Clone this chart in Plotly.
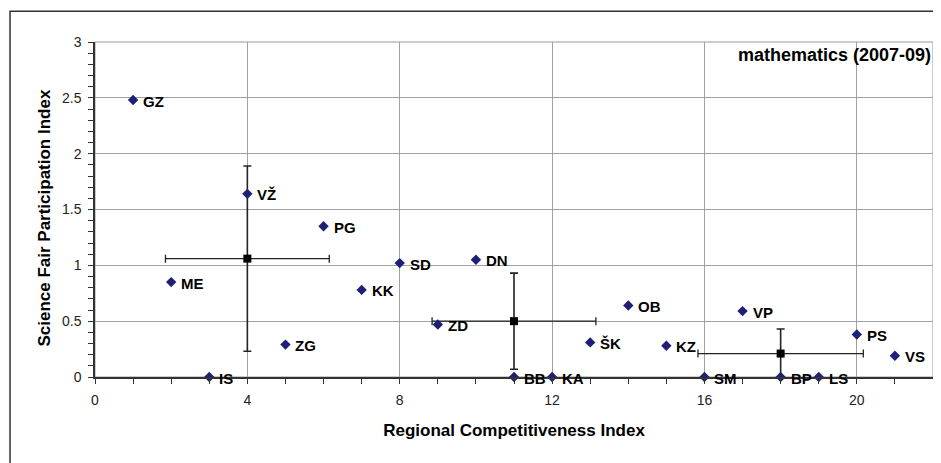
import plotly.graph_objects as go

# Region data
regions = ["GZ", "ME", "IS", "VŽ", "ZG", "PG", "KK", "SD", "ZD", "DN", "BB", "KA",
           "ŠK", "OB", "KZ", "SM", "VP", "BP", "LS", "PS", "VS"]
rci = [1, 2, 3, 4, 5, 6, 7, 8, 9, 10, 11, 12, 13, 14, 15, 16, 17, 18, 19, 20, 21]
sfpi = [2.48, 0.85, 0.0, 1.64, 0.29, 1.35, 0.78, 1.02, 0.47, 1.05, 0.0, 0.0,
        0.31, 0.64, 0.28, 0.0, 0.59, 0.0, 0.0, 0.38, 0.19]

# Group means with spread
mean_x = [4.0, 11.0, 18.0]
mean_y = [1.06, 0.50, 0.21]
err_x = [2.15, 2.15, 2.17]
err_y = [0.83, 0.43, 0.22]

title_text = "mathematics (2007-09)"
x_title = "Regional Competitiveness Index"
y_title = "Science Fair Participation Index"
x_ticks = [0, 4, 8, 12, 16, 20]
y_ticks = [0, 0.5, 1, 1.5, 2, 2.5, 3]
y_tick_labels = ["0", "0.5", "1", "1.5", "2", "2.5", "3"]

FONT = "Liberation Sans, Arial, sans-serif"

fig = go.Figure()

fig.add_trace(go.Scatter(
    x=mean_x, y=mean_y, mode="markers",
    marker=dict(symbol="square", size=8, color="black"),
    error_x=dict(type="data", array=err_x, color="#222222", thickness=1.3, width=4),
    error_y=dict(type="data", array=err_y, color="#222222", thickness=1.6, width=4),
    cliponaxis=False, showlegend=False, hoverinfo="skip",
))

fig.add_trace(go.Scatter(
    x=rci, y=sfpi, mode="markers",
    marker=dict(symbol="diamond", size=8, color="#1f1f78"),
    cliponaxis=False, showlegend=False,
))

for name, xv, yv in zip(regions, rci, sfpi):
    fig.add_annotation(x=xv, y=yv, text=name, showarrow=False,
                       xanchor="left", yanchor="middle", xshift=8, yshift=-1,
                       font=dict(family=FONT, size=15, color="black", weight="bold"))

fig.add_annotation(x=1, y=0.962, xref="paper", yref="paper", text="<b>" + title_text + "</b>",
                   showarrow=False, xanchor="right", yanchor="middle",
                   font=dict(family=FONT, size=18, color="black"))

fig.add_annotation(x=-0.06, y=0.475, xref="paper", yref="paper", text="<b>" + y_title + "</b>",
                   showarrow=False, textangle=-90, xanchor="center", yanchor="middle",
                   font=dict(family=FONT, size=17, color="black"))

# plot area border (gray) and outer chart border
fig.add_shape(type="rect", xref="paper", yref="paper", x0=0, y0=0, x1=1, y1=1,
              line=dict(color="#999999", width=1), layer="below")
fig.add_shape(type="rect", xref="paper", yref="paper", x0=-0.1014, y0=-0.6, x1=1.2, y1=1.0916,
              line=dict(color="#333333", width=1.5), layer="below")

fig.update_layout(
    width=941, height=463,
    margin=dict(l=87, r=16, t=34, b=94, autoexpand=False),
    paper_bgcolor="white", plot_bgcolor="white",
    font=dict(family=FONT, color="#333333"),
    xaxis=dict(
        range=[0, 22], tickvals=x_ticks, ticks="outside", ticklen=5, tickcolor="#333333",
        showgrid=True, gridcolor="#a0a0a0", gridwidth=1,
        showline=True, linecolor="#333333", linewidth=1.5,
        zeroline=False, automargin=False, ticklabelstandoff=4,
        minor=dict(dtick=1, ticks="outside", ticklen=5, tickcolor="#333333", showgrid=False),
        tickfont=dict(family=FONT, size=14, color="#222222"),
        title=dict(text="<b>" + x_title + "</b>", font=dict(family=FONT, size=17, color="black"),
                   standoff=18),
    ),
    yaxis=dict(
        range=[0, 3], tickvals=y_ticks, ticktext=y_tick_labels, ticks="outside", ticklen=5,
        tickcolor="#333333",
        showgrid=True, gridcolor="#a0a0a0", gridwidth=1,
        showline=True, linecolor="#333333", linewidth=1.5,
        zeroline=False, automargin=False, ticklabelstandoff=4,
        minor=dict(dtick=0.1, tick0=0, ticks="outside", ticklen=5, tickcolor="#333333", showgrid=False),
        tickfont=dict(family=FONT, size=14, color="#222222"),
    ),
)

fig.write_html("out.html")
